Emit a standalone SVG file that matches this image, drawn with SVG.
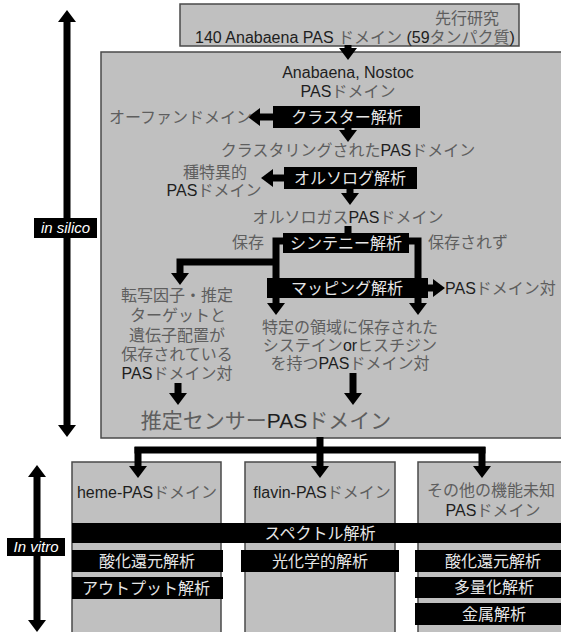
<svg xmlns="http://www.w3.org/2000/svg" width="561" height="632" viewBox="0 0 561 632">
<defs>
<style>
.t{font-family:"Liberation Sans","Noto Sans CJK JP",sans-serif;font-size:16px;fill:#5e5e5e;text-anchor:middle}
.s{text-anchor:start}
.e{text-anchor:end}
.l{fill:#1e1e1e}
.w{font-family:"Liberation Sans","Noto Sans CJK JP",sans-serif;font-size:16px;fill:#e6e6e6;text-anchor:middle}
.lab{font-family:"Liberation Sans",sans-serif;font-size:15px;font-style:italic;fill:#fff;text-anchor:middle}
.box{fill:#c0c0c0;stroke:#4a4a4a;stroke-width:1.5}
.blk{fill:#000}
.c{fill:none;stroke:#000;stroke-width:7}
</style>
<marker id="ah" viewBox="0 0 12 18" refX="0" refY="9" markerWidth="12" markerHeight="18" markerUnits="userSpaceOnUse" orient="auto-start-reverse">
<path d="M0,0 L12,9 L0,18 z" fill="#000"/>
</marker>
</defs>
<rect width="561" height="632" fill="#fff"/>

<g id="prior-study">
<rect class="box" x="180" y="4" width="339" height="42"/>
<text class="t e" x="499" y="24">先行研究</text>
<text class="t" x="355" y="43"><tspan class="l">140 Anabaena PAS </tspan>ドメイン <tspan class="l">(59</tspan>タンパク質<tspan class="l">)</tspan></text>
</g>

<g id="in-silico-area">
<rect class="box" x="101" y="52" width="470" height="386"/>
</g>

<g id="col-heme"><rect class="box" x="72" y="462" width="149" height="180"/></g>
<g id="col-flavin"><rect class="box" x="245" y="462" width="150" height="180"/></g>
<g id="col-other"><rect class="box" x="418" y="462" width="160" height="180"/></g>

<g id="connectors">
<line class="c" x1="348" y1="45" x2="348" y2="48" marker-end="url(#ah)"/>
<line class="c" x1="348" y1="127" x2="348" y2="130" marker-end="url(#ah)"/>
<line class="c" x1="275" y1="117" x2="260" y2="117" marker-end="url(#ah)"/>
<line class="c" x1="350" y1="188" x2="350" y2="193" marker-end="url(#ah)"/>
<line class="c" x1="286" y1="178" x2="273" y2="178" marker-end="url(#ah)"/>
<line class="c" x1="348" y1="226" x2="348" y2="235"/>
<path class="c" d="M286,241 H276 V303" marker-end="url(#ah)"/>
<path class="c" d="M406,241 H418 V303" marker-end="url(#ah)"/>
<path class="c" d="M276,262 H180 V273" marker-end="url(#ah)"/>
<line class="c" x1="426" y1="288" x2="433" y2="288" marker-end="url(#ah)"/>
<line class="c" x1="178" y1="383" x2="178" y2="393" marker-end="url(#ah)"/>
<line class="c" x1="353" y1="373" x2="353" y2="393" marker-end="url(#ah)"/>
<path class="c" d="M320,437 V450 M134.5,450 H485.5"/>
<line class="c" x1="138" y1="447" x2="138" y2="466" marker-end="url(#ah)"/>
<line class="c" x1="320" y1="447" x2="320" y2="466" marker-end="url(#ah)"/>
<line class="c" x1="482" y1="447" x2="482" y2="466" marker-end="url(#ah)"/>
<line class="c" x1="67" y1="22" x2="67" y2="425" marker-start="url(#ah)" marker-end="url(#ah)"/>
<line class="c" x1="37" y1="477" x2="37" y2="620" marker-start="url(#ah)" marker-end="url(#ah)"/>
</g>

<g id="label-in-silico">
<rect class="blk" x="34" y="218" width="63" height="20"/>
<text class="lab" x="65.5" y="233">in silico</text>
</g>
<g id="label-in-vitro">
<rect class="blk" x="7" y="538" width="58" height="18"/>
<text class="lab" x="36" y="552">In vitro</text>
</g>

<g id="anabaena-nostoc">
<text class="t l" x="348" y="78">Anabaena, Nostoc</text>
<text class="t" x="348" y="97"><tspan class="l">PAS</tspan>ドメイン</text>
</g>
<g id="cluster">
<rect class="blk" x="273" y="106" width="147" height="22"/>
<text class="w" x="347" y="123">クラスター解析</text>
</g>
<g id="orphan"><text class="t e" x="252" y="123">オーファンドメイン</text></g>
<g id="clustered"><text class="t" x="348" y="156">クラスタリングされた<tspan class="l">PAS</tspan>ドメイン</text></g>
<g id="ortholog">
<rect class="blk" x="284" y="167" width="133" height="22"/>
<text class="w" x="350" y="184">オルソログ解析</text>
</g>
<g id="species-specific">
<text class="t" x="215" y="178">種特異的</text>
<text class="t" x="214" y="196"><tspan class="l">PAS</tspan>ドメイン</text>
</g>
<g id="orthologous"><text class="t" x="348" y="223">オルソロガス<tspan class="l">PAS</tspan>ドメイン</text></g>
<g id="synteny">
<rect class="blk" x="283" y="233" width="126" height="20"/>
<text class="w" x="346" y="249">シンテニー解析</text>
</g>
<g id="conserved"><text class="t" x="248" y="248">保存</text></g>
<g id="not-conserved"><text class="t s" x="428" y="248">保存されず</text></g>
<g id="mapping">
<rect class="blk" x="267" y="278" width="161" height="20"/>
<text class="w" x="347" y="294">マッピング解析</text>
</g>
<g id="pas-pair"><text class="t s" x="445" y="294"><tspan class="l">PAS</tspan>ドメイン対</text></g>
<g id="tf-pair">
<text class="t" x="177" y="301">転写因子・推定</text>
<text class="t" x="178" y="321">ターゲットと</text>
<text class="t" x="177" y="341">遺伝子配置が</text>
<text class="t" x="177" y="360">保存されている</text>
<text class="t" x="177" y="379"><tspan class="l">PAS</tspan>ドメイン対</text>
</g>
<g id="cys-his-pair">
<text class="t" x="350" y="333">特定の領域に保存された</text>
<text class="t" x="350" y="351">システイン<tspan class="l">or</tspan>ヒスチジン</text>
<text class="t" x="350" y="369">を持つ<tspan class="l">PAS</tspan>ドメイン対</text>
</g>
<g id="sensor"><text class="t" x="266" y="428" style="font-size:21px">推定センサー<tspan class="l">PAS</tspan>ドメイン</text></g>

<g id="heme"><text class="t" x="147" y="498"><tspan class="l">heme-PAS</tspan>ドメイン</text></g>
<g id="flavin"><text class="t" x="322" y="498"><tspan class="l">flavin-PAS</tspan>ドメイン</text></g>
<g id="other">
<text class="t" x="491" y="496">その他の機能未知</text>
<text class="t" x="493" y="516"><tspan class="l">PAS</tspan>ドメイン</text>
</g>

<g id="spectral">
<rect class="blk" x="72" y="523" width="489" height="20"/>
<text class="w" x="320" y="539">スペクトル解析</text>
</g>
<g id="redox-1">
<rect class="blk" x="72" y="550" width="151" height="22"/>
<text class="w" x="147" y="567">酸化還元解析</text>
</g>
<g id="output">
<rect class="blk" x="72" y="577" width="151" height="22"/>
<text class="w" x="146" y="594">アウトプット解析</text>
</g>
<g id="photochem">
<rect class="blk" x="241" y="550" width="158" height="22"/>
<text class="w" x="320" y="567">光化学的解析</text>
</g>
<g id="redox-3">
<rect class="blk" x="415" y="550" width="146" height="22"/>
<text class="w" x="493" y="567">酸化還元解析</text>
</g>
<g id="oligomer">
<rect class="blk" x="415" y="577" width="146" height="21"/>
<text class="w" x="494" y="593">多量化解析</text>
</g>
<g id="metal">
<rect class="blk" x="415" y="603" width="146" height="22"/>
<text class="w" x="494" y="620">金属解析</text>
</g>
</svg>
